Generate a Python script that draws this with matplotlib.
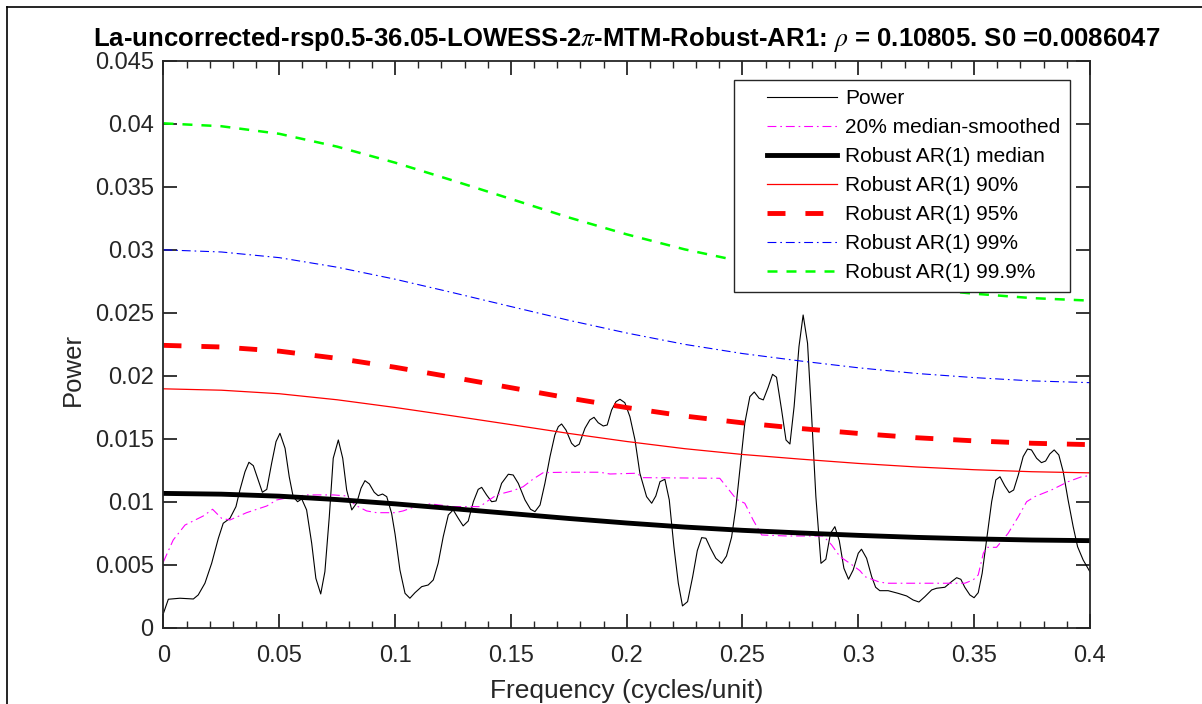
import numpy as np
import matplotlib
matplotlib.use("Agg")
import matplotlib.pyplot as plt
from matplotlib.lines import Line2D
from matplotlib.legend_handler import HandlerLine2D

plt.rcParams['font.family'] = ['Liberation Sans', 'DejaVu Sans']
plt.rcParams['mathtext.fontset'] = 'stix'

# spectrum
freq = [0.0, 0.0021, 0.0071, 0.0129, 0.0150, 0.0179, 0.0208, 0.0237, 0.0258, 0.0287,
        0.0313, 0.0330, 0.0352, 0.0369, 0.0388, 0.0409, 0.0427, 0.0446, 0.0467, 0.0486,
        0.0503, 0.0525, 0.0543, 0.0560, 0.0579, 0.0597, 0.0618, 0.0640, 0.0658, 0.0679,
        0.0697, 0.0716, 0.0733, 0.0755, 0.0774, 0.0791, 0.0813, 0.0834, 0.0853, 0.0870,
        0.0889, 0.0910, 0.0927, 0.0946, 0.0964, 0.0985, 0.1000, 0.1021, 0.1043, 0.1064,
        0.1086, 0.1115, 0.1143, 0.1165, 0.1186, 0.1208, 0.1230, 0.1251, 0.1273, 0.1294,
        0.1316, 0.1338, 0.1359, 0.1374, 0.1395, 0.1417, 0.1436, 0.1460, 0.1489, 0.1510,
        0.1532, 0.1561, 0.1585, 0.1604, 0.1626, 0.1647, 0.1669, 0.1690, 0.1705, 0.1719,
        0.1738, 0.1762, 0.1777, 0.1795, 0.1820, 0.1841, 0.1859, 0.1877, 0.1899, 0.1916,
        0.1935, 0.1954, 0.1971, 0.1992, 0.2014, 0.2036, 0.2057, 0.2086, 0.2108, 0.2126,
        0.2144, 0.2165, 0.2184, 0.2204, 0.2223, 0.2241, 0.2263, 0.2285, 0.2305, 0.2324,
        0.2342, 0.2362, 0.2385, 0.2410, 0.2431, 0.2453, 0.2472, 0.2492, 0.2510, 0.2532,
        0.2551, 0.2572, 0.2590, 0.2611, 0.2630, 0.2647, 0.2669, 0.2688, 0.2705, 0.2723,
        0.2744, 0.2762, 0.2781, 0.2798, 0.2817, 0.2839, 0.2860, 0.2880, 0.2899, 0.2918,
        0.2938, 0.2958, 0.2978, 0.3000, 0.3014, 0.3036, 0.3058, 0.3075, 0.3093, 0.3129,
        0.3172, 0.3209, 0.3237, 0.3262, 0.3288, 0.3317, 0.3338, 0.3374, 0.3403, 0.3425,
        0.3443, 0.3460, 0.3482, 0.3500, 0.3518, 0.3535, 0.3554, 0.3576, 0.3594, 0.3612,
        0.3633, 0.3652, 0.3671, 0.3691, 0.3712, 0.3731, 0.3748, 0.3770, 0.3791, 0.3809,
        0.3827, 0.3846, 0.3866, 0.3885, 0.3906, 0.3928, 0.3947, 0.3971, 0.4000]
power = [0.00117, 0.00228, 0.00236, 0.00230, 0.00262, 0.00355, 0.00513, 0.00712, 0.00831, 0.00870,
         0.00963, 0.01095, 0.01240, 0.01315, 0.01288, 0.01175, 0.01077, 0.01100, 0.01307, 0.01479,
         0.01545, 0.01426, 0.01200, 0.01042, 0.01002, 0.01024, 0.00937, 0.00672, 0.00394, 0.00270,
         0.00447, 0.00883, 0.01347, 0.01492, 0.01347, 0.01095, 0.00937, 0.00990, 0.01109, 0.01169,
         0.01143, 0.01077, 0.01050, 0.01063, 0.01042, 0.00910, 0.00745, 0.00460, 0.00275, 0.00236,
         0.00280, 0.00328, 0.00341, 0.00381, 0.00513, 0.00725, 0.00897, 0.00937, 0.00870, 0.00810,
         0.00849, 0.01002, 0.01100, 0.01116, 0.01056, 0.01002, 0.01008, 0.01148, 0.01220, 0.01214,
         0.01148, 0.01016, 0.00942, 0.00923, 0.00976, 0.01148, 0.01360, 0.01532, 0.01598, 0.01619,
         0.01571, 0.01466, 0.01439, 0.01458, 0.01585, 0.01651, 0.01672, 0.01629, 0.01603, 0.01611,
         0.01730, 0.01796, 0.01815, 0.01788, 0.01677, 0.01492, 0.01228, 0.01042, 0.00990, 0.01048,
         0.01161, 0.01180, 0.01016, 0.00645, 0.00355, 0.00175, 0.00209, 0.00407, 0.00614, 0.00717,
         0.00712, 0.00633, 0.00553, 0.00513, 0.00571, 0.00720, 0.00963, 0.01307, 0.01624, 0.01836,
         0.01873, 0.01823, 0.01810, 0.01910, 0.02013, 0.01990, 0.01730, 0.01492, 0.01460, 0.01757,
         0.02233, 0.02484, 0.02260, 0.01704, 0.01042, 0.00513, 0.00545, 0.00751, 0.00804, 0.00693,
         0.00474, 0.00387, 0.00460, 0.00593, 0.00625, 0.00553, 0.00407, 0.00323, 0.00296, 0.00296,
         0.00275, 0.00254, 0.00222, 0.00206, 0.00249, 0.00302, 0.00315, 0.00323, 0.00368, 0.00399,
         0.00386, 0.00323, 0.00262, 0.00240, 0.00280, 0.00434, 0.00698, 0.01002, 0.01175, 0.01200,
         0.01127, 0.01074, 0.01095, 0.01214, 0.01360, 0.01420, 0.01413, 0.01347, 0.01312, 0.01325,
         0.01381, 0.01413, 0.01373, 0.01240, 0.01016, 0.00804, 0.00645, 0.00540, 0.00447]

# 20% median-smoothed
sm_freq = [0.0, 0.0042, 0.0093, 0.0172, 0.0212, 0.0251, 0.0287, 0.0359, 0.0446, 0.0489,
           0.0560, 0.0618, 0.0733, 0.0791, 0.0827, 0.0877, 0.0920, 0.1000, 0.1035, 0.1079,
           0.1151, 0.1251, 0.1367, 0.1395, 0.1439, 0.1510, 0.1553, 0.1597, 0.1640, 0.1741,
           0.1885, 0.1928, 0.2043, 0.2071, 0.2402, 0.2431, 0.2474, 0.2510, 0.2546, 0.2583,
           0.2690, 0.2849, 0.2885, 0.2921, 0.2964, 0.3007, 0.3029, 0.3086, 0.3122, 0.3460,
           0.3496, 0.3518, 0.3540, 0.3554, 0.3597, 0.3647, 0.3691, 0.3727, 0.3762, 0.3834,
           0.3906, 0.3964, 0.4000]
sm_power = [0.00526, 0.00698, 0.00817, 0.00889, 0.00942, 0.00870, 0.00857, 0.00915, 0.00968, 0.01016,
            0.01042, 0.01056, 0.01056, 0.01048, 0.00976, 0.00929, 0.00915, 0.00915, 0.00929, 0.00958,
            0.00985, 0.00963, 0.00963, 0.01002, 0.01056, 0.01090, 0.01121, 0.01183, 0.01233, 0.01236,
            0.01236, 0.01222, 0.01228, 0.01193, 0.01188, 0.01121, 0.01021, 0.00990, 0.00857, 0.00738,
            0.00730, 0.00730, 0.00659, 0.00566, 0.00513, 0.00455, 0.00407, 0.00368, 0.00355, 0.00355,
            0.00381, 0.00421, 0.00593, 0.00640, 0.00640, 0.00751, 0.00883, 0.01002, 0.01042, 0.01095,
            0.01161, 0.01200, 0.01209]

# robust AR(1) curves
ar_freq = [0.0, 0.025, 0.05, 0.075, 0.1, 0.125, 0.15, 0.175, 0.2, 0.225,
           0.25, 0.275, 0.3, 0.325, 0.35, 0.375, 0.4]
ar_median = [0.01068, 0.01062, 0.01046, 0.01019, 0.00985, 0.00947, 0.00908, 0.00869, 0.00833,
             0.00801, 0.00775, 0.00754, 0.00735, 0.00719, 0.00707, 0.00698, 0.00693]
ar_90 = [0.01898, 0.01887, 0.01859, 0.01811, 0.01750, 0.01683, 0.01614, 0.01544, 0.01480,
         0.01423, 0.01377, 0.01340, 0.01306, 0.01278, 0.01256, 0.01240, 0.01231]
ar_95 = [0.02243, 0.02230, 0.02197, 0.02140, 0.02069, 0.01989, 0.01907, 0.01825, 0.01749,
         0.01682, 0.01628, 0.01583, 0.01544, 0.01510, 0.01485, 0.01466, 0.01455]
ar_99 = [0.03001, 0.02984, 0.02939, 0.02863, 0.02768, 0.02661, 0.02551, 0.02442, 0.02341,
         0.02251, 0.02178, 0.02119, 0.02065, 0.02020, 0.01987, 0.01961, 0.01947]
ar_999 = [0.04005, 0.03982, 0.03922, 0.03820, 0.03693, 0.03551, 0.03405, 0.03258, 0.03124,
          0.03005, 0.02907, 0.02827, 0.02755, 0.02697, 0.02653, 0.02618, 0.02598]

xticks = [0, 0.05, 0.1, 0.15, 0.2, 0.25, 0.3, 0.35, 0.4]
xticklabels = ['0', '0.05', '0.1', '0.15', '0.2', '0.25', '0.3', '0.35', '0.4']
yticks = [0, 0.005, 0.01, 0.015, 0.02, 0.025, 0.03, 0.035, 0.04, 0.045]
yticklabels = ['0', '0.005', '0.01', '0.015', '0.02', '0.025', '0.03', '0.035', '0.04', '0.045']

ax_col = '#262626'


class ShortLine(HandlerLine2D):
    # matlab style legend: line sits in the right part of the handle box
    def get_xdata(self, legend, xdescent, ydescent, width, height, fontsize):
        x0 = -xdescent + 0.25 * width
        x1 = -xdescent + width
        return [x0, x1], [x0, x1]


fig = plt.figure(figsize=(12.02, 7.04), dpi=100)
ax = fig.add_axes([0.136, 0.108, 0.7707, 0.8054])

ax.plot(freq, power, color='k', lw=0.8, label='Power')
ax.plot(sm_freq, sm_power, color='#ff00ff', lw=0.8, linestyle=(0, (8, 3.5, 1.5, 3.5)),
        label='20% median-smoothed')
ax.plot(ar_freq, ar_median, color='k', lw=3.5, label='Robust AR(1) median')
ax.plot(ar_freq, ar_90, color='#ff0000', lw=0.9, label='Robust AR(1) 90%')
ax.plot(ar_freq, ar_95, color='#ff0000', lw=3.5, linestyle=(0, (3.7, 4.1)),
        dash_capstyle='butt', label='Robust AR(1) 95%')
ax.plot(ar_freq, ar_99, color='#0000ff', lw=0.8, linestyle=(0, (8, 3.5, 1.5, 3.5)),
        label='Robust AR(1) 99%')
ax.plot(ar_freq, ar_999, color='#00ff00', lw=1.8, linestyle=(0, (4, 3.6)),
        dash_capstyle='butt', label='Robust AR(1) 99.9%')

ax.set_xlim(0, 0.4)
ax.set_ylim(0, 0.045)
ax.set_xticks(xticks)
ax.set_xticklabels(xticklabels)
ax.set_xticks(np.arange(0, 0.4001, 0.01), minor=True)
ax.set_yticks(yticks)
ax.set_yticklabels(yticklabels)

for s in ax.spines.values():
    s.set_color(ax_col)
    s.set_linewidth(1.3)
ax.tick_params(which='both', direction='in', top=True, right=True, colors=ax_col,
               labelcolor=ax_col, labelsize=17)
ax.tick_params(which='major', length=10, width=1.3)
ax.tick_params(which='minor', length=5, width=1.0)
ax.tick_params(axis='y', pad=7)
ax.tick_params(axis='x', pad=12)

ax.set_xlabel('Frequency (cycles/unit)', fontsize=19, color=ax_col, labelpad=9)
ax.set_ylabel('Power', fontsize=18.5, color=ax_col)
ax.yaxis.set_label_coords(-0.085, 0.455)
ax.set_title(r'La-uncorrected-rsp0.5-36.05-LOWESS-2$\pi$-MTM-Robust-AR1: $\rho$ = 0.10805. S0 =0.0086047',
             fontsize=18.5, fontweight='bold', pad=10.5)

leg = ax.legend(loc='upper right', bbox_to_anchor=(0.9784, 0.9665), borderaxespad=0,
                fontsize=15, frameon=True, fancybox=False, framealpha=1,
                edgecolor=ax_col, handlelength=4.5, handletextpad=0.38,
                labelspacing=0.48, borderpad=0.45, handler_map={Line2D: ShortLine()})
leg.get_frame().set_linewidth(1.0)

# outer frame (top and left edge of the window)
fig.add_artist(Line2D([0.006, 1.0], [0.9905, 0.9905], color='k', lw=1.2, transform=fig.transFigure))
fig.add_artist(Line2D([0.006, 0.006], [0.0, 0.9905], color='k', lw=1.2, transform=fig.transFigure))

fig.savefig('out.png', dpi=100)
